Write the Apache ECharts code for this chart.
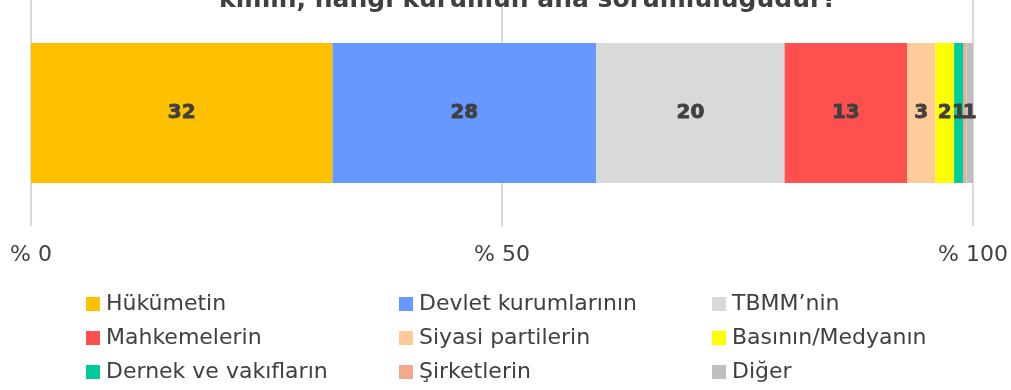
<!DOCTYPE html>
<html>
<head>
<meta charset="utf-8">
<script src="https://cdn.jsdelivr.net/npm/echarts@6/dist/echarts.min.js"></script>
<style>
  html, body { margin: 0; padding: 0; background: #ffffff; }
  #chart { width: 1011px; height: 390px; }
</style>
</head>
<body>
<div id="chart"></div>
<script>
// Share of responsibility by institution (%), one stacked bar
const categories = ['Hükümetin', 'Devlet kurumlarının', 'TBMM\u2019nin', 'Mahkemelerin', 'Siyasi partilerin', 'Basının/Medyanın', 'Dernek ve vakıfların', 'Şirketlerin', 'Diğer'];
const values = [32, 28, 20, 13, 3, 2, 1, 0.3, 1];
const showLabel = [true, true, true, true, true, true, true, false, true];
const colors = ['#FFC000', '#6699FF', '#D9D9D9', '#FF5050', '#FFCC99', '#FFFF00', '#00CC99', '#F4A98A', '#BFBFBF'];
const tickValues = [0, 50, 100];
const titleText = 'kimin, hangi kurumun ana sorumluluğudur?';

// Legend laid out in three columns
const legendColumns = [
  [categories[0], categories[3], categories[6]],
  [categories[1], categories[4], categories[7]],
  [categories[2], categories[5], categories[8]]
];
const legendLefts = [86, 399, 712];

const chart = echarts.init(document.getElementById('chart'), null, { renderer: 'canvas' });

const series = categories.map((name, i) => ({
  name: name,
  type: 'bar',
  stack: 'total',
  barWidth: 140,
  data: [values[i]],
  itemStyle: { color: colors[i] },
  label: {
    show: showLabel[i],
    position: 'inside',
    formatter: '{c}',
    color: '#404040',
    fontSize: 20,
    fontWeight: 'bold',
    textBorderColor: '#404040',
    textBorderWidth: 0.8,
    fontFamily: '"DejaVu Sans", sans-serif'
  },
  emphasis: { disabled: true }
}));

const legends = legendColumns.map((col, k) => ({
  data: col,
  orient: 'vertical',
  left: legendLefts[k],
  top: 293,
  height: 97,
  padding: 0,
  itemWidth: 14,
  itemHeight: 14,
  itemGap: 12,
  icon: 'rect',
  selectedMode: false,
  textStyle: {
    color: '#404040',
    fontSize: 22,
    lineHeight: 21,
    padding: [0, 0, 0, 1],
    fontFamily: '"DejaVu Sans", sans-serif'
  }
}));

chart.setOption({
  animation: false,
  title: {
    text: titleText,
    left: 214,
    top: -17,
    textStyle: {
      color: '#404040',
      fontSize: 25,
      fontWeight: 'bold',
      fontFamily: '"DejaVu Sans", sans-serif'
    }
  },
  grid: { left: 31, right: 38, top: 0, height: 226 },
  xAxis: {
    type: 'value',
    min: tickValues[0],
    max: tickValues[tickValues.length - 1],
    interval: 50,
    axisLine: { show: false },
    axisTick: { show: false },
    splitLine: { show: true, lineStyle: { color: '#D9D9D9', width: 2 } },
    axisLabel: {
      formatter: v => '% ' + v,
      color: '#404040',
      fontSize: 22,
      margin: 18,
      fontFamily: '"DejaVu Sans", sans-serif'
    }
  },
  yAxis: {
    type: 'category',
    data: [''],
    show: false
  },
  legend: legends,
  series: series
});
</script>
</body>
</html>
